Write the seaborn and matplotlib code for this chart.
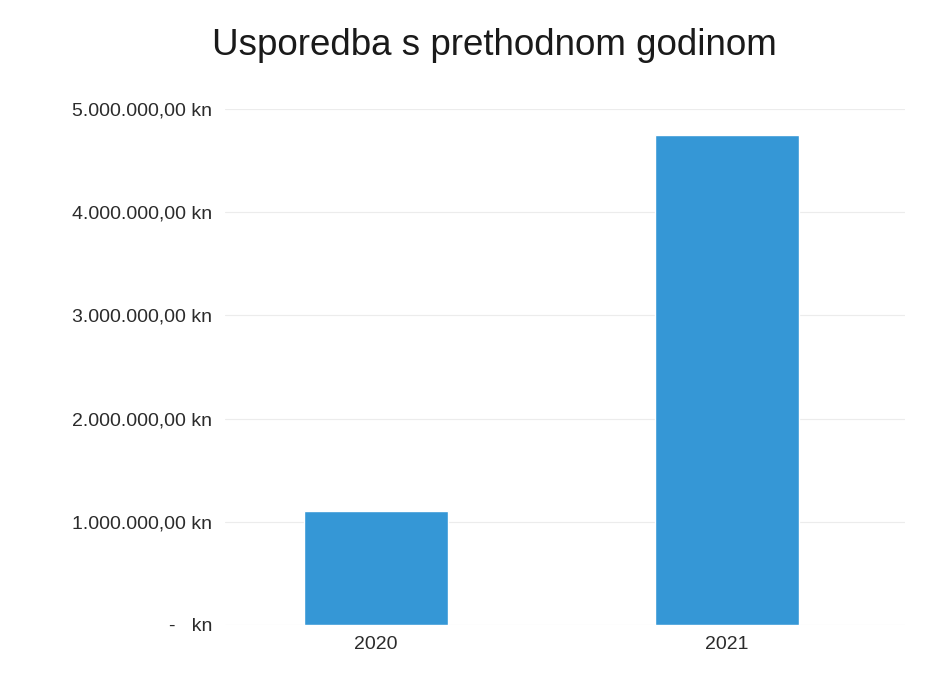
import matplotlib
matplotlib.use("Agg")
import matplotlib.pyplot as plt
import matplotlib.ticker as mticker
import pandas as pd
import seaborn as sns

# ── Data ─────────────────────────────────────────────────────────────────────
years  = ["2020", "2021"]
values = [1_100_000, 4_750_000]
yticks = [0, 1_000_000, 2_000_000, 3_000_000, 4_000_000, 5_000_000]

BAR   = "#3597d6"
TEXT  = "#2b2b2b"

df = pd.DataFrame({"year": years, "value": values})

sns.set_theme(style="white")
plt.rcParams["font.family"] = ["Liberation Sans", "DejaVu Sans"]

def kn(v, pos=None):
    if v == 0:
        return "-   kn"
    s = f"{v:,.2f}".replace(",", "X").replace(".", ",").replace("X", ".")
    return f"{s} kn"

fig = plt.figure(figsize=(9.32, 6.74), dpi=100)
ax = fig.add_axes([0.241, 0.073, 0.730, 0.765])

sns.barplot(data=df, x="year", y="value", color=BAR, width=0.41,
            saturation=1, ax=ax, zorder=3)

ax.set_ylim(0, 5_000_000)
ax.set_xlim(-0.43, 1.507)
ax.set_yticks(yticks)
ax.yaxis.set_major_formatter(mticker.FuncFormatter(kn))
ax.grid(axis="y", color="#ececec", linewidth=0.8, zorder=0)
ax.set_xlabel(""); ax.set_ylabel("")
for sp in ax.spines.values():
    sp.set_visible(False)
ax.tick_params(axis="both", length=0, colors=TEXT, labelsize=14)
ax.tick_params(axis="y", pad=9)
ax.tick_params(axis="x", pad=8)
for lbl in ax.get_yticklabels() + ax.get_xticklabels():
    lbl.set_fontweight("medium")

fig.text(0.53, 0.933, "Usporedba s prethodnom godinom", ha="center", va="center",
         fontsize=26.5, color="#1a1a1a")

fig.savefig("out.png", dpi=100)
